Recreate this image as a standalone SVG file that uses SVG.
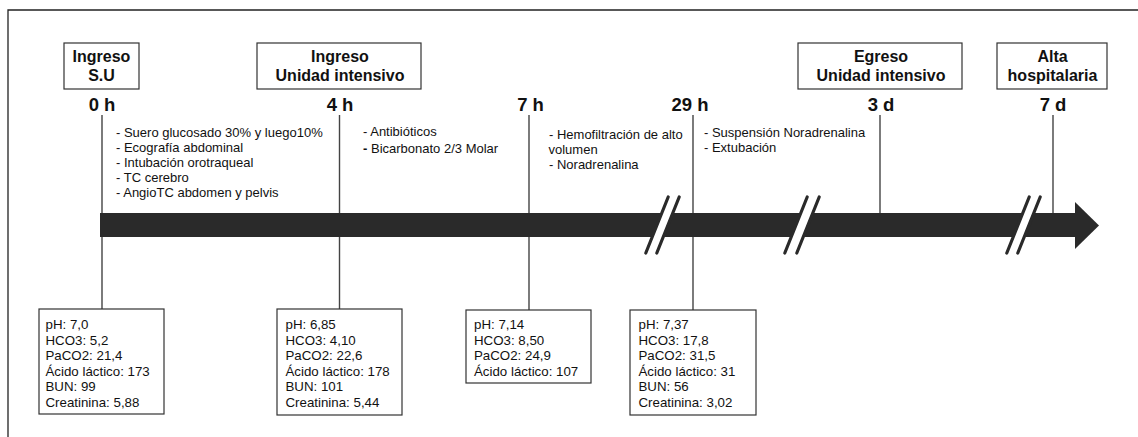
<svg xmlns="http://www.w3.org/2000/svg" width="1138" height="437" viewBox="0 0 1138 437">
<style>
.frame{fill:none;stroke:#222;stroke-width:1.3}
.box{fill:#fff;stroke:#333;stroke-width:1.2}
.tick{stroke:#444;stroke-width:1.4;fill:none}
.hdr{font-family:"Liberation Sans",Arial,sans-serif;font-weight:bold;font-size:16px;fill:#111;text-anchor:middle}
.time{font-family:"Liberation Sans",Arial,sans-serif;font-weight:bold;font-size:18.5px;fill:#111;text-anchor:middle}
.ev{font-family:"Liberation Sans",Arial,sans-serif;font-size:13px;fill:#111}
.lab{font-family:"Liberation Sans",Arial,sans-serif;font-size:13.3px;fill:#111}
.bar{fill:#2a2a2a}
.gap{fill:#fff}
.brk{stroke:#2a2a2a;stroke-width:3.2;stroke-linecap:round}
</style>
<rect width="1138" height="437" fill="#fff"/>
<path class="frame" d="M8,437 V10 H1138"/>

<g id="connectors">
  <line class="tick" x1="102" y1="115" x2="102" y2="309"/>
  <line class="tick" x1="339.5" y1="115" x2="339.5" y2="309"/>
  <line class="tick" x1="529" y1="115" x2="529" y2="310"/>
  <line class="tick" x1="693" y1="115" x2="693" y2="310"/>
  <line class="tick" x1="880" y1="115" x2="880" y2="213"/>
  <line class="tick" x1="1053" y1="115" x2="1053" y2="213"/>
</g>

<g id="timeline-arrow">
  <rect class="bar" x="100" y="213" width="976" height="24"/>
  <polygon class="bar" points="1075,202 1099,225.5 1075,249"/>
  <!-- break 1 -->
  <polygon class="gap" points="668.2,197 679.2,197 657,253 645.8,253"/>
  <line class="brk" x1="668.2" y1="197" x2="645.8" y2="253"/>
  <line class="brk" x1="679.2" y1="197" x2="656.8" y2="253"/>
  <!-- break 2 -->
  <polygon class="gap" points="807.2,197 819.2,197 796.8,253 784.8,253"/>
  <line class="brk" x1="807.2" y1="197" x2="784.8" y2="253"/>
  <line class="brk" x1="819.2" y1="197" x2="796.8" y2="253"/>
  <!-- break 3 -->
  <polygon class="gap" points="1029.2,197 1040.2,197 1017.8,253 1006.8,253"/>
  <line class="brk" x1="1029.2" y1="197" x2="1006.8" y2="253"/>
  <line class="brk" x1="1040.2" y1="197" x2="1017.8" y2="253"/>
</g>

<g id="node-ingreso-su">
  <rect class="box" x="64" y="43" width="75" height="46"/>
  <text class="hdr" x="101.5" y="62">Ingreso</text>
  <text class="hdr" x="101.5" y="81">S.U</text>
  <text class="time" x="102" y="111">0 h</text>
</g>

<g id="node-ingreso-ui">
  <rect class="box" x="257" y="43" width="164" height="46"/>
  <text class="hdr" x="340" y="62">Ingreso</text>
  <text class="hdr" x="340" y="81">Unidad intensivo</text>
  <text class="time" x="340" y="111">4 h</text>
</g>

<g id="node-7h">
  <text class="time" x="530.5" y="111">7 h</text>
</g>

<g id="node-29h">
  <text class="time" x="690" y="111">29 h</text>
</g>

<g id="node-egreso-ui">
  <rect class="box" x="798" y="43" width="164" height="46"/>
  <text class="hdr" x="881" y="62">Egreso</text>
  <text class="hdr" x="881" y="81">Unidad intensivo</text>
  <text class="time" x="881" y="111">3 d</text>
</g>

<g id="node-alta">
  <rect class="box" x="997" y="43" width="110" height="46"/>
  <text class="hdr" x="1052.5" y="62">Alta</text>
  <text class="hdr" x="1052.5" y="81">hospitalaria</text>
  <text class="time" x="1053" y="111">7 d</text>
</g>

<g id="events-0h">
  <text class="ev" x="116" y="136.5">- Suero glucosado 30% y luego10%</text>
  <text class="ev" x="116" y="151.5">- Ecografía abdominal</text>
  <text class="ev" x="116" y="166.5">- Intubación  orotraqueal</text>
  <text class="ev" x="116" y="181.5">- TC cerebro</text>
  <text class="ev" x="116" y="196.5">- AngioTC abdomen y pelvis</text>
</g>

<g id="events-4h">
  <text class="ev" x="363" y="135.5">- Antibióticos</text>
  <text class="ev" x="363" y="152.5"><tspan font-weight="bold">-</tspan> Bicarbonato 2/3 Molar</text>
</g>

<g id="events-7h">
  <text class="ev" x="549" y="139">- Hemofiltración de alto</text>
  <text class="ev" x="548.5" y="154">volumen</text>
  <text class="ev" x="549" y="168.5">- Noradrenalina</text>
</g>

<g id="events-29h">
  <text class="ev" x="704" y="137">- Suspensión Noradrenalina</text>
  <text class="ev" x="704" y="152">- Extubación</text>
</g>

<g id="labs-0h">
  <rect class="box" x="39" y="309" width="125" height="105"/>
  <text class="lab" x="45.5" y="329">pH: 7,0</text>
  <text class="lab" x="45.5" y="344.5">HCO3: 5,2</text>
  <text class="lab" x="45.5" y="360">PaCO2: 21,4</text>
  <text class="lab" x="45.5" y="375.5">Ácido láctico: 173</text>
  <text class="lab" x="45.5" y="391">BUN: 99</text>
  <text class="lab" x="45.5" y="406.5">Creatinina: 5,88</text>
</g>

<g id="labs-4h">
  <rect class="box" x="277" y="309" width="125" height="106"/>
  <text class="lab" x="285.5" y="329">pH: 6,85</text>
  <text class="lab" x="285.5" y="344.5">HCO3: 4,10</text>
  <text class="lab" x="285.5" y="360">PaCO2: 22,6</text>
  <text class="lab" x="285.5" y="375.5">Ácido láctico: 178</text>
  <text class="lab" x="285.5" y="391">BUN: 101</text>
  <text class="lab" x="285.5" y="406.5">Creatinina: 5,44</text>
</g>

<g id="labs-7h">
  <rect class="box" x="466" y="310" width="125" height="73"/>
  <text class="lab" x="474" y="329">pH: 7,14</text>
  <text class="lab" x="474" y="344.5">HCO3: 8,50</text>
  <text class="lab" x="474" y="360">PaCO2: 24,9</text>
  <text class="lab" x="474" y="375.5">Ácido láctico: 107</text>
</g>

<g id="labs-29h">
  <rect class="box" x="630" y="310" width="126" height="105"/>
  <text class="lab" x="638.5" y="329">pH: 7,37</text>
  <text class="lab" x="638.5" y="344.5">HCO3: 17,8</text>
  <text class="lab" x="638.5" y="360">PaCO2: 31,5</text>
  <text class="lab" x="638.5" y="375.5">Ácido láctico: 31</text>
  <text class="lab" x="638.5" y="391">BUN: 56</text>
  <text class="lab" x="638.5" y="406.5">Creatinina: 3,02</text>
</g>
</svg>
